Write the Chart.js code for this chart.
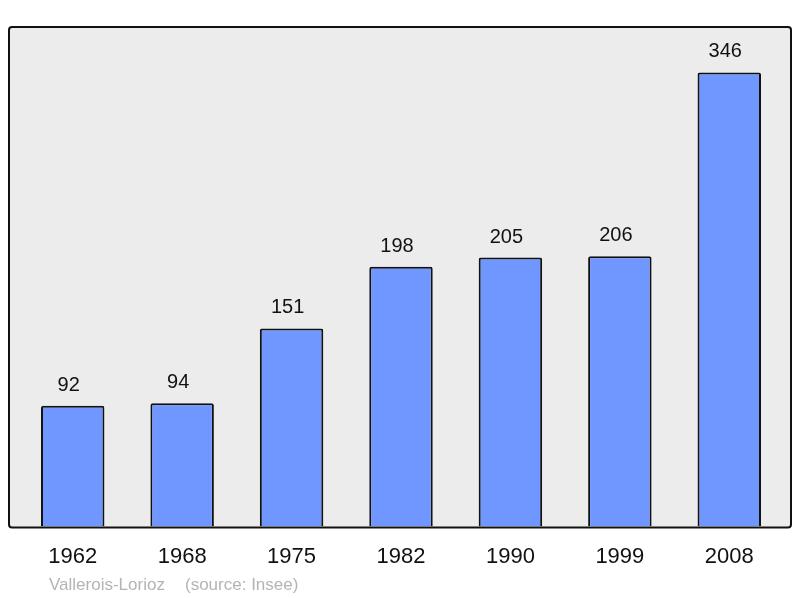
<!DOCTYPE html>
<html>
<head>
<meta charset="utf-8">
<script src="https://cdn.jsdelivr.net/npm/chart.js@4/dist/chart.umd.min.js"></script>
<style>
  html, body { margin: 0; padding: 0; background: #fff; }
  #wrap { width: 800px; height: 598px; }
</style>
</head>
<body>
<div id="wrap"><canvas id="chart" width="800" height="598"></canvas></div>
<script>
// 数据
const years = ['1962', '1968', '1975', '1982', '1990', '1999', '2008'];
const population = [92, 94, 151, 198, 205, 206, 346];
const footerName = 'Vallerois-Lorioz';
const footerSource = '(source: Insee)';

// 灰色背景框
const boxPlugin = {
    id: 'box',
    beforeDraw(chart) {
        const { ctx, chartArea: a } = chart;
        const x0 = a.left - 9, x1 = a.right + 7, y0 = a.top, y1 = a.bottom + 1;
        ctx.save();
        ctx.beginPath();
        ctx.roundRect(x0, y0, x1 - x0, y1 - y0, 3);
        ctx.fillStyle = '#ececec';
        ctx.fill();
        ctx.restore();
    },
    afterDatasetsDraw(chart) {
        const { ctx, chartArea: a } = chart;
        const x0 = a.left - 9, x1 = a.right + 7, y0 = a.top, y1 = a.bottom + 1;
        ctx.save();
        ctx.beginPath();
        ctx.roundRect(x0, y0, x1 - x0, y1 - y0, 3);
        ctx.lineWidth = 2;
        ctx.strokeStyle = '#111';
        ctx.stroke();
        ctx.restore();
    }
};

// 柱顶数值
const valuePlugin = {
    id: 'values',
    afterDatasetsDraw(chart) {
        const { ctx } = chart;
        const meta = chart.getDatasetMeta(0);
        ctx.save();
        ctx.font = '20px "Liberation Sans", Arial, sans-serif';
        ctx.fillStyle = '#111';
        ctx.textAlign = 'center';
        ctx.textBaseline = 'alphabetic';
        meta.data.forEach((bar, i) => {
            ctx.fillText(String(population[i]), bar.x - 4, bar.y - 15);
        });
        ctx.restore();
    }
};

// 底部来源
const footerPlugin = {
    id: 'footer',
    afterDraw(chart) {
        const { ctx } = chart;
        ctx.save();
        ctx.font = '17px "Liberation Sans", Arial, sans-serif';
        ctx.fillStyle = '#b4b4b4';
        ctx.textBaseline = 'alphabetic';
        ctx.fillText(footerName, 49, 590);
        ctx.fillText(footerSource, 185, 590);
        ctx.restore();
    }
};

new Chart(document.getElementById('chart'), {
    type: 'bar',
    data: {
        labels: years,
        datasets: [{
            data: population,
            backgroundColor: '#7097ff',
            borderColor: '#111',
            borderWidth: 2,
            borderRadius: 2,
            borderSkipped: 'bottom',
            categoryPercentage: 1,
            barPercentage: 0.58
        }]
    },
    options: {
        responsive: false,
        animation: false,
        layout: { padding: { left: 18, right: 16, top: 27, bottom: 11 } },
        plugins: { legend: { display: false }, tooltip: { enabled: false } },
        scales: {
            x: {
                grid: { display: false, drawTicks: false },
                border: { display: false },
                ticks: {
                    color: '#111',
                    padding: 17,
                    font: { family: '"Liberation Sans", Arial, sans-serif', size: 22 }
                }
            },
            y: {
                display: false,
                min: 0,
                max: 380.6
            }
        }
    },
    plugins: [boxPlugin, valuePlugin, footerPlugin]
});
</script>
</body>
</html>
